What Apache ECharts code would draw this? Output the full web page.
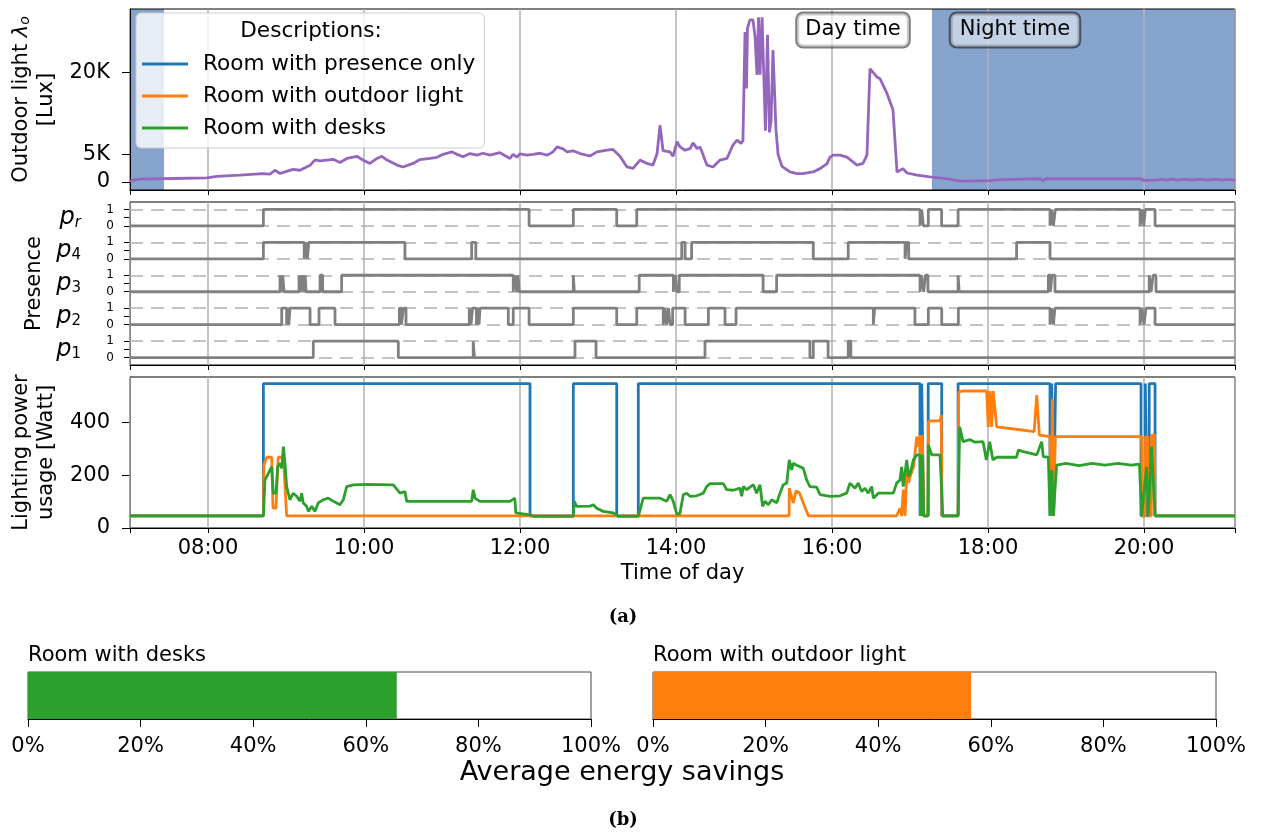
<!DOCTYPE html>
<html>
<head>
<meta charset="utf-8">
<script src="https://cdn.jsdelivr.net/npm/echarts@6/dist/echarts.min.js"></script>
<style>
  html, body { margin: 0; padding: 0; background: #fff; }
  #chart { width: 1261px; height: 834px; }
</style>
</head>
<body>
<div id="chart"></div>
<script>
// ---------- data (times in minutes since midnight) ----------
const dayStart = 420;   // 07:00
const dayEnd = 1270;    // 21:10
const hourTicks = [480, 600, 720, 840, 960, 1080, 1200];
const nightSpans = [[420, 446.2], [1036.9, 1270]];
const luxTicks = [0, 5000, 20000];
const powerTicks = [0, 200, 400];

// Outdoor light [time, lux]
const outdoorLux = [
  [420,0],[422.3,300],[427.7,500],[453,600],[479.2,700],[486.9,1000],[504.6,1200],[522.3,1500],
  [527.7,1400],[531.5,2100],[535.4,1500],[539.2,1800],[545.4,2250],[550.8,2100],[558.5,3000],
  [562.3,4000],[566.2,3800],[576.2,4100],[581.5,3500],[586.9,4250],[594.6,4650],[599.2,3950],
  [604.6,3350],[610,4250],[613.8,4650],[617.7,3950],[625.4,3050],[630,2700],[637.7,3350],
  [643.1,4050],[650.8,4250],[656.2,4450],[660.8,5000],[667.7,5450],[671.5,5000],[676.2,4550],
  [681.5,5150],[686.9,4850],[691.5,5200],[696.9,4850],[704.6,5300],[712.3,4250],[714.6,5000],
  [717.7,4500],[720,5100],[725.4,4850],[730,5000],[735.4,5200],[740.8,4850],[745.4,5450],
  [748.5,6350],[753.1,6000],[756.2,5450],[760.8,5650],[766.2,5150],[773.8,4700],[779.2,5450],
  [786.9,5750],[791.5,5900],[796.9,4650],[802.3,2700],[806.9,2450],[812.3,3950],[817.7,3350],
  [822.3,3050],[825.4,5100],[827.7,10300],[830,5700],[835.4,5450],[837.7,4650],[840.8,7300],
  [843.1,6350],[846.9,5750],[850.8,6050],[853.1,7100],[856.2,6050],[858.5,6350],[863.8,3050],
  [868.5,2700],[873.8,3950],[879.2,4250],[883.8,6700],[886.9,7600],[890,7000],[891.5,7500],
  [893.1,27300],[894.2,17000],[895,28000],[896.9,29500],[899.2,29500],[900.8,26500],[902.3,19500],
  [903.5,30000],[904.6,19500],[906.2,30000],[907.7,30000],[908.8,9300],[910.4,26800],[911.9,9000],
  [913.1,11000],[914.6,24000],[916.9,9500],[918.5,5000],[921.5,2800],[927.7,1800],[933.1,1500],
  [937.7,1500],[945.4,1800],[950.8,2400],[956.2,3300],[958.5,4500],[960.8,4850],[966.2,4850],
  [971.5,4500],[979.2,3050],[983.8,3350],[986.9,4850],[989.2,20600],[991.5,20000],[994.6,19100],
  [996.9,18800],[1002.3,16100],[1006.9,13150],[1010,1800],[1014.6,2400],[1017.7,1600],[1025.4,1200],
  [1035.4,900],[1050.8,500],[1058.5,100],[1081.5,200],[1089.2,400],[1120,550],[1122.3,200],
  [1124.6,550],[1166,550],[1196.9,550],[1200,250],[1204.6,300],[1210,300],[1213.8,500],[1216.9,300],
  [1221.5,500],[1226.2,300],[1231.5,500],[1236.9,300],[1243,500],[1249.2,300],[1254.6,500],
  [1260,300],[1264.6,450],[1270,300]
];

// Presence sensors: times at which each sensor toggles (starts at 0)
const presenceRows = ['p1', 'p2', 'p3', 'p4', 'pr'];
const presenceSubs = ['1', '2', '3', '4', 'r'];
const toggles_p1 = [561, 626.4, 684, 685, 762.3, 778.5, 862.3, 943, 945.6, 957, 972.5, 974.5];
const toggles_p2 = [536.7, 540.5, 541.5, 542.2, 543, 558.5, 565.4, 577.7, 627.2, 628.8, 630.3, 632.3,
  681, 682.3, 683.5, 686.5, 687.7, 688.5, 689.2, 711, 714.8, 727, 761, 794.4, 809.8, 830.2, 831.5,
  832.8, 834.2, 835.5, 837.4, 847, 864.9, 877.7, 886.2, 991.8, 992.8, 1023.8, 1034.1, 1044.4, 1057.2,
  1127.7, 1129, 1130.3, 1131.5, 1197, 1198.5, 1200, 1201.5, 1208.5];
const toggles_p3 = [535.4, 536.5, 537.5, 538.5, 550, 551.5, 552.5, 554, 554.8, 555.4, 566.2, 568.2,
  582.8, 714.8, 716, 717.5, 718.5, 719.4, 761, 761.8, 811.7, 838, 839.5, 840.8, 842.5, 907, 917.4,
  1027.7, 1029, 1030.5, 1032, 1033.8, 1057, 1057.8, 1126.4, 1128, 1129.3, 1131.5, 1204, 1205.5,
  1207, 1209.2];
const toggles_p4 = [522.6, 554, 555.3, 556.5, 557.5, 631.5, 682.8, 686, 844.4, 847, 852, 945.6, 972.5,
  1016.2, 1017.4, 1019, 1102, 1127.7];
const toggles_pr = [522.6, 727, 761, 794.4, 809.8, 1027.7, 1029, 1030.3, 1034.1, 1044.3, 1057, 1127.7,
  1129, 1130.3, 1131.8, 1197, 1198.5, 1199.8, 1201, 1208.5];
const presenceToggles = [toggles_p1, toggles_p2, toggles_p3, toggles_p4, toggles_pr];

// Lighting power usage [time, watt]
const powerPresenceOnly = [
  [420,46],[522.6,547],[727.7,46],[761,547],[794.4,46],[811,547],[1027.7,46],[1029,547],[1030.5,46],
  [1034,547],[1044.4,46],[1057,547],[1127.7,46],[1129,547],[1130.5,46],[1132,547],[1197.7,46],
  [1201,547],[1202.3,46],[1204,547],[1208.5,46],[1270,46]
];
const powerOutdoorLight = [
  [420,46],[522.6,46],[523,239],[525.2,268],[529,268],[530,75],[532.3,75],[534,268],[538,268],
  [540.5,46],[927,46],[927.1,151],[928.5,145],[930.2,95],[932.3,140],[934.9,134],[937.9,95],
  [941.8,46],[1009.7,46],[1012.3,75],[1013.6,46],[1014.8,145],[1016.2,46],[1017.5,208],[1018.8,171],
  [1020.1,195],[1022.7,231],[1025.2,346],[1026.5,308],[1027.7,352],[1028.4,46],[1029.5,352],
  [1030.6,46],[1033.8,46],[1034.1,402],[1036,406],[1043,406],[1044,428],[1044.6,46],[1057,46],
  [1057.5,515],[1060,519],[1079,519],[1080.2,383],[1081.5,519],[1082.8,383],[1084,519],[1086.7,383],
  [1100,375],[1115.5,365],[1117.5,503],[1119.5,352],[1127.7,346],[1128.5,46],[1129.5,490],
  [1130.5,46],[1131.8,346],[1198.2,346],[1198.8,46],[1200.8,46],[1201.2,346],[1203,346],[1203.5,46],
  [1205.6,46],[1206,352],[1208,352],[1208.5,46],[1270,46]
];
const powerDesks = [
  [420,46],[522.6,46],[523.8,182],[525.2,195],[527.7,220],[529,232],[530.2,132],[532.3,132],
  [533.6,232],[535.4,245],[536.7,226],[538,308],[539.2,245],[540.5,157],[543,107],[545.6,132],
  [548.2,120],[550.8,101],[552,132],[553.3,95],[555.9,82],[557.2,63],[559.8,82],[562.3,63],
  [564.8,95],[568.7,107],[572.5,113],[576.4,101],[581.5,88],[584.1,107],[586.7,157],[591.8,163],
  [602,165],[622.5,163],[627.7,132],[631.5,138],[632.8,101],[682.8,101],[684,145],[685.4,113],
  [689,101],[712.3,101],[716,113],[716.8,57],[718,57],[727.7,50],[730.3,44],[761,44],[761.8,101],
  [763.6,82],[774,83],[776.4,88],[779,75],[784,63],[791.8,57],[795.6,44],[811,44],[814.8,113],
  [827.7,113],[832.8,101],[835.4,126],[837.9,101],[840.5,54],[843,54],[845.6,126],[848.2,132],
  [850.8,120],[855.9,122],[861,132],[863.6,157],[866.2,168],[876.4,168],[879,145],[884.1,143],
  [889.2,151],[890.5,120],[891.8,157],[894.4,145],[899.5,164],[902,132],[904.6,164],[906.6,82],
  [908.5,101],[911,88],[913.6,107],[917.5,95],[920,132],[922.5,164],[925.2,170],[927.1,258],
  [929,220],[930.2,245],[932.8,238],[935.4,232],[937.9,226],[940.5,182],[943,157],[948.2,155],
  [950.8,126],[958.5,120],[966.2,122],[971.3,132],[973.8,170],[977.7,151],[980.2,170],[982.8,138],
  [985.4,151],[987.9,132],[990.5,157],[991.8,113],[995.6,132],[1007.2,132],[1009.7,170],[1012.3,182],
  [1013.6,232],[1014.8,157],[1017.5,258],[1018.8,195],[1020.1,207],[1021.4,232],[1022.6,258],
  [1025.2,277],[1027.7,277],[1028.4,46],[1029.5,277],[1030.6,46],[1033.8,46],[1034.1,315],
  [1036.7,277],[1043.1,277],[1045.2,46],[1057,46],[1058.2,383],[1060.8,327],[1066,335],[1070,325],
  [1076.2,327],[1078.7,258],[1081.3,327],[1083.8,258],[1086.7,268],[1102,268],[1103.3,295],
  [1107.2,289],[1117.5,277],[1121.3,327],[1122.5,270],[1126.4,268],[1127.7,46],[1129,220],
  [1130.2,46],[1132.8,238],[1140,245],[1150,236],[1160,245],[1170,238],[1180,245],[1190,238],
  [1196.5,242],[1198.2,46],[1202,232],[1203.3,46],[1205.8,308],[1208.5,46],[1270,46]
];

// Average energy savings [%]
const savingsLabels = ['Room with desks', 'Room with outdoor light'];
const savingsValues = [65.5, 56.5];
const savingsColors = ['#2ca02c', '#ff7f0e'];

// ---------- chart ----------
const FONT = 'DejaVu Sans';
const C_BLUE = '#1f77b4', C_ORANGE = '#ff7f0e', C_GREEN = '#2ca02c', C_PURPLE = '#9467bd';
const C_GRID = '#b0b0b0';
const LW = 2.8;

const hm = m => String(Math.floor(m / 60)).padStart(2, '0') + ':' + String(Math.round(m % 60)).padStart(2, '0');
const timeTicks = [dayStart].concat(hourTicks, [dayEnd]);

function timeAxis(i, withLabels) {
  return {
    type: 'value', gridIndex: i, min: dayStart, max: dayEnd, z: 1.5,
    axisLine: { show: true, onZero: false, lineStyle: { color: '#000', width: 1 } },
    axisTick: { show: true, customValues: timeTicks, length: 5, lineStyle: { color: '#000', width: 1 } },
    axisLabel: { show: withLabels, customValues: hourTicks, formatter: hm, fontSize: 21, color: '#000', margin: 10, fontFamily: FONT },
    splitLine: { show: true, lineStyle: { color: C_GRID, width: 1.5 } },
    name: withLabels ? 'Time of day' : '', nameLocation: 'middle', nameGap: 35,
    nameTextStyle: { fontSize: 21, color: '#000', fontFamily: FONT }
  };
}

// presence step lines: row k sits at 2k (off) / 2k+1 (on)
const presenceSeries = presenceToggles.map((tg, k) => {
  let s = 0;
  const pts = [[dayStart, 2 * k]];
  tg.forEach(t => { s = 1 - s; pts.push([t, 2 * k + s]); });
  pts.push([dayEnd, 2 * k + s]);
  return pts;
});
const presenceLevels = [];
presenceRows.forEach((r, k) => { presenceLevels.push(2 * k, 2 * k + 1); });
const presenceTickVals = [];
presenceRows.forEach((r, k) => { presenceTickVals.push(2 * k, 2 * k + 0.5, 2 * k + 1); });

const series = [];
series.push({
  type: 'line', name: 'Outdoor light', xAxisIndex: 0, yAxisIndex: 0, data: outdoorLux,
  showSymbol: false, symbol: 'none', lineStyle: { color: C_PURPLE, width: LW }, itemStyle: { color: C_PURPLE },
  markArea: { silent: true, z: 1, itemStyle: { color: '#86a3cd' }, label: { show: false },
    data: nightSpans.map(s => [{ xAxis: s[0] }, { xAxis: s[1] }]) }
});
presenceSeries.forEach((pts, k) => {
  const s = {
    type: 'line', name: presenceRows[k], xAxisIndex: 1, yAxisIndex: 1, data: pts, step: 'end',
    showSymbol: false, symbol: 'none', lineStyle: { color: '#808080', width: LW }, itemStyle: { color: '#808080' }
  };
  if (k === 0) {
    s.markLine = { silent: true, z: 1, symbol: 'none', label: { show: false },
      lineStyle: { color: C_GRID, width: 1.5, type: [13, 8] },
      data: presenceLevels.map(v => ({ yAxis: v })) };
  }
  series.push(s);
});
[['Room with presence only', powerPresenceOnly, C_BLUE, 'end'],
 ['Room with outdoor light', powerOutdoorLight, C_ORANGE, false],
 ['Room with desks', powerDesks, C_GREEN, false]].forEach(([name, data, color, step]) => {
  series.push({
    type: 'line', name, xAxisIndex: 2, yAxisIndex: 2, data, step,
    showSymbol: false, symbol: 'none', lineStyle: { color, width: LW }, itemStyle: { color }
  });
});
savingsValues.forEach((v, i) => {
  series.push({
    type: 'bar', name: savingsLabels[i] + ' savings', xAxisIndex: 3 + i, yAxisIndex: 3 + i,
    data: [v], barWidth: '100%', itemStyle: { color: savingsColors[i] }
  });
});

const gridBase = { show: true, borderWidth: 1, outerBoundsMode: 'none', containLabel: false };
const option = {
  animation: false,
  textStyle: { fontFamily: FONT },
  grid: [
    Object.assign({ left: 130, right: 26, top: 9, height: 181, borderColor: '#000', z: 1.5 }, gridBase),
    Object.assign({ left: 130, right: 26, top: 202, height: 163, borderColor: '#000' }, gridBase),
    Object.assign({ left: 130, right: 26, top: 377, height: 151, borderColor: '#000' }, gridBase),
    Object.assign({ left: 28, width: 563, top: 672, height: 47, borderColor: '#444' }, gridBase),
    Object.assign({ left: 653, width: 563, top: 672, height: 47, borderColor: '#444' }, gridBase)
  ],
  title: savingsLabels.map((t, i) => ({
    text: t, left: i === 0 ? 28 : 653, top: 645, padding: 0,
    textStyle: { fontSize: 21, fontWeight: 'normal', color: '#000', fontFamily: FONT }
  })),
  legend: {
    data: ['Room with presence only', 'Room with outdoor light', 'Room with desks'],
    orient: 'vertical', left: 136, top: 13, padding: [40, 9, 9, 6], itemGap: 10,
    itemWidth: 46, itemHeight: 3, icon: 'rect', selectedMode: false, z: 10,
    textStyle: { fontSize: 21.6, color: '#000', fontFamily: FONT, padding: [0, 0, 0, 10], lineHeight: 22 },
    backgroundColor: 'rgba(255,255,255,0.8)', borderColor: '#cccccc', borderWidth: 1, borderRadius: 5
  },
  xAxis: [
    timeAxis(0, false), timeAxis(1, false), timeAxis(2, true),
    ...[3, 4].map(i => ({
      type: 'value', gridIndex: i, min: 0, max: 100, interval: 20,
      axisLine: { show: true, lineStyle: { color: '#000', width: 1 } },
      axisTick: { show: true, length: 8, lineStyle: { color: '#000', width: 1 } },
      axisLabel: { formatter: '{value}%', fontSize: 21, color: '#000', margin: 17, fontFamily: FONT },
      splitLine: { show: false }
    }))
  ],
  yAxis: [
    {
      type: 'value', gridIndex: 0, min: -1500, max: 31500, z: 1.5,
      axisLine: { show: true, lineStyle: { color: '#000', width: 1 } },
      axisTick: { show: true, customValues: luxTicks, length: 8, lineStyle: { color: '#000', width: 1 } },
      axisLabel: { customValues: luxTicks, formatter: v => v === 0 ? '0' : (v / 1000) + 'K', fontSize: 21, color: '#000', margin: 20, fontFamily: FONT },
      splitLine: { show: false },
      name: 'Outdoor light {i|λ}{sub|o}\n[Lux]', nameLocation: 'middle', nameRotate: 90, nameGap: 70,
      nameTextStyle: { fontSize: 21, color: '#000', fontFamily: FONT, lineHeight: 25,
        rich: { i: { fontSize: 21, fontStyle: 'italic', fontFamily: FONT }, sub: { fontSize: 14, fontStyle: 'italic', fontFamily: FONT, padding: [9, 0, 0, 0] } } }
    },
    {
      type: 'value', gridIndex: 1, min: -0.45, max: 9.45,
      axisLine: { show: true, lineStyle: { color: '#000', width: 1 } },
      axisTick: { show: true, customValues: presenceTickVals, length: 6, lineStyle: { color: '#000', width: 1 } },
      axisLabel: {
        customValues: presenceTickVals, margin: 16, color: '#000', fontFamily: FONT,
        formatter: v => {
          const k = Math.floor(v / 2), r = v - 2 * k;
          if (r === 0.5) {
            const sub = presenceSubs[k];
            return '{p|p}{' + (/[0-9]/.test(sub) ? 'd' : 's') + '|' + sub + '}';
          }
          return '{n|' + r + '}';
        },
        rich: {
          n: { fontSize: 12, color: '#000', fontFamily: FONT },
          p: { fontSize: 24, fontStyle: 'italic', color: '#000', fontFamily: FONT },
          s: { fontSize: 15, fontStyle: 'italic', color: '#000', fontFamily: FONT, padding: [10, 33, 0, 0] },
          d: { fontSize: 15, fontStyle: 'normal', color: '#000', fontFamily: FONT, padding: [10, 33, 0, 0] }
        }
      },
      splitLine: { show: false },
      name: 'Presence', nameLocation: 'middle', nameRotate: 90, nameGap: 85,
      nameTextStyle: { fontSize: 21, color: '#000', fontFamily: FONT }
    },
    {
      type: 'value', gridIndex: 2, min: 0, max: 572, interval: 200,
      axisLine: { show: true, lineStyle: { color: '#000', width: 1 } },
      axisTick: { show: true, customValues: powerTicks, length: 8, lineStyle: { color: '#000', width: 1 } },
      axisLabel: { customValues: powerTicks, fontSize: 21, color: '#000', margin: 20, fontFamily: FONT },
      splitLine: { show: false },
      name: 'Lighting power\nusage [Watt]', nameLocation: 'middle', nameRotate: 90, nameGap: 59,
      nameTextStyle: { fontSize: 21, color: '#000', fontFamily: FONT, lineHeight: 25 }
    },
    ...[3, 4].map(i => ({ type: 'category', gridIndex: i, data: [savingsLabels[i - 3]], show: false }))
  ],
  graphic: [
    { type: 'text', x: 311, y: 31, z: 100, style: { text: 'Descriptions:', font: '21.6px "DejaVu Sans"', fill: '#000', align: 'center', verticalAlign: 'middle' } },
    { type: 'text', x: 853, y: 30, z: 100, style: { text: 'Day time', font: '21px "DejaVu Sans"', fill: '#000', align: 'center', verticalAlign: 'middle',
      backgroundColor: 'rgba(255,255,255,0.6)', borderColor: 'rgba(0,0,0,0.5)', borderWidth: 2, borderRadius: 6, padding: [6, 8] } },
    { type: 'text', x: 1015, y: 30, z: 100, style: { text: 'Night time', font: '21px "DejaVu Sans"', fill: '#000', align: 'center', verticalAlign: 'middle',
      backgroundColor: 'rgba(255,255,255,0.5)', borderColor: 'rgba(0,0,0,0.5)', borderWidth: 2, borderRadius: 6, padding: [6, 9] } },
    { type: 'text', x: 623, y: 617, z: 100, style: { text: '(a)', font: 'bold 18px "DejaVu Serif"', fill: '#000', align: 'center', verticalAlign: 'middle' } },
    { type: 'text', x: 622, y: 773, z: 100, style: { text: 'Average energy savings', font: '27px "DejaVu Sans"', fill: '#000', align: 'center', verticalAlign: 'middle' } },
    { type: 'text', x: 623, y: 820, z: 100, style: { text: '(b)', font: 'bold 18px "DejaVu Serif"', fill: '#000', align: 'center', verticalAlign: 'middle' } }
  ],
  series
};

const chart = echarts.init(document.getElementById('chart'), null, { renderer: 'canvas' });
chart.setOption(option);
</script>
</body>
</html>
